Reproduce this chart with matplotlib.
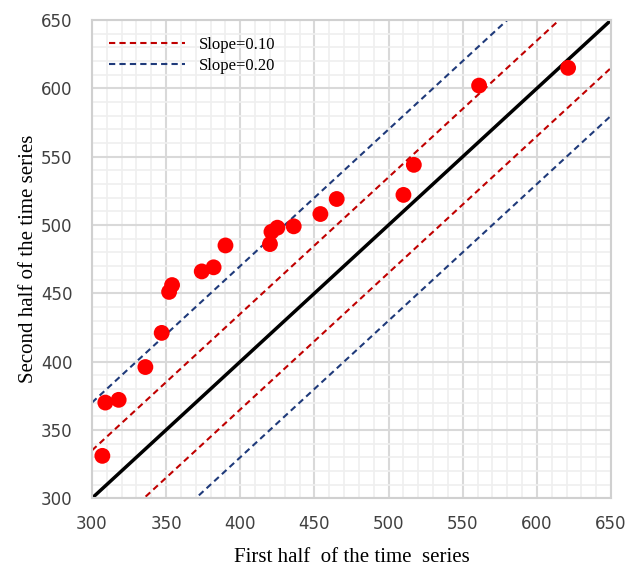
import numpy as np
import matplotlib.pyplot as plt
from matplotlib.ticker import MultipleLocator

# data
first_half = [307, 309, 318, 336, 347, 352, 354, 374, 382, 390,
              420, 421, 425, 436, 454, 465, 510, 517, 561, 621]
second_half = [331, 370, 372, 396, 421, 451, 456, 466, 469, 485,
               486, 495, 498, 499, 508, 519, 522, 544, 602, 615]
band_10 = 35
band_20 = 70

fig = plt.figure(figsize=(6.3, 5.72), dpi=100)
ax = fig.add_axes([0.146, 0.129, 0.824, 0.836])

ax.set_xlim(300, 650)
ax.set_ylim(300, 650)
ax.xaxis.set_major_locator(MultipleLocator(50))
ax.yaxis.set_major_locator(MultipleLocator(50))
ax.xaxis.set_minor_locator(MultipleLocator(10))
ax.yaxis.set_minor_locator(MultipleLocator(10))
ax.grid(which='major', color='#d9d9d9', lw=1.5)
ax.grid(which='minor', color='#efefef', lw=1.2)
ax.set_axisbelow(True)
ax.tick_params(which='both', length=0, labelsize=12, colors='#404040')
ax.tick_params(axis='x', pad=12)
ax.tick_params(axis='y', pad=14)
for s in ax.spines.values():
    s.set_color('#d0d0d0')
    s.set_linewidth(1.5)

xs = np.array([300, 650])
ax.plot(xs, xs + band_10, '--', color='#c00000', lw=1.5, dashes=(3, 2), label='Slope=0.10')
ax.plot(xs, xs - band_10, '--', color='#c00000', lw=1.5, dashes=(3, 2))
ax.plot(xs, xs + band_20, '--', color='#1f3a7a', lw=1.5, dashes=(3, 2), label='Slope=0.20')
ax.plot(xs, xs - band_20, '--', color='#1f3a7a', lw=1.5, dashes=(3, 2))
ax.plot(xs, xs, color='black', lw=2.5)

ax.scatter(first_half, second_half, s=130, color='#ff0000', zorder=5, edgecolors='none')

leg = ax.legend(loc='upper left', frameon=False, prop={'family': 'Liberation Serif', 'size': 12},
                handlelength=4.6, handletextpad=0.8, labelspacing=0.3, borderaxespad=0.6)

ax.set_xlabel('First half  of the time  series', family='Liberation Serif', fontsize=15, labelpad=11)
ax.set_ylabel('Second half of the time series', family='Liberation Serif', fontsize=15, labelpad=2)

fig.savefig('out.png', dpi=100)
